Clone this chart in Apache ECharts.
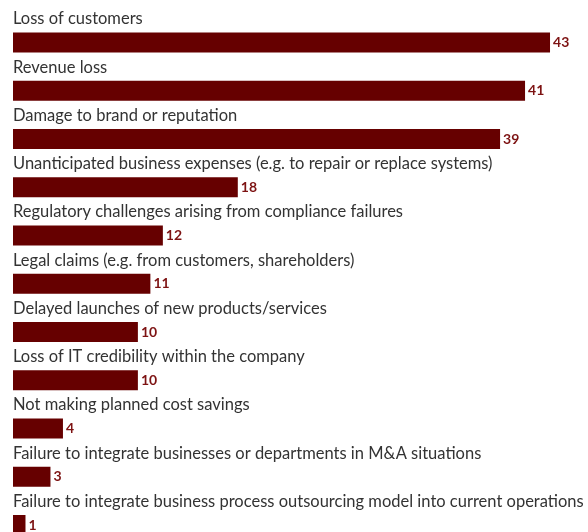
<!DOCTYPE html>
<html>
<head>
<meta charset="utf-8">
<script src="https://cdn.jsdelivr.net/npm/echarts@6/dist/echarts.min.js"></script>
<style>
  html, body { margin: 0; padding: 0; background: #fff; }
  #chart { width: 588px; height: 532px; }
</style>
</head>
<body>
<div id="chart"></div>
<script>
// Business impacts, percentage of respondents
const categories = [
  'Loss of customers',
  'Revenue loss',
  'Damage to brand or reputation',
  'Unanticipated business expenses (e.g. to repair or replace systems)',
  'Regulatory challenges arising from compliance failures',
  'Legal claims (e.g. from customers, shareholders)',
  'Delayed launches of new products/services',
  'Loss of IT credibility within the company',
  'Not making planned cost savings',
  'Failure to integrate businesses or departments in M&A situations',
  'Failure to integrate business process outsourcing model into current operations'
];
const values = [43, 41, 39, 18, 12, 11, 10, 10, 4, 3, 1];

const barColor = '#660000';
const valueColor = '#7d1212';
const textColor = '#333333';
const fontFamily = 'Lato, "Noto Sans", sans-serif';

const chart = echarts.init(document.getElementById('chart'), null, { renderer: 'canvas' });
chart.setOption({
  animation: false,
  backgroundColor: '#ffffff',
  // category centres sit on the grid edges (boundaryGap false)
  grid: { left: 13, right: 13, top: 42.5, bottom: 7 },
  xAxis: {
    type: 'value',
    min: 0,
    max: 45,
    show: false
  },
  yAxis: {
    type: 'category',
    inverse: true,
    boundaryGap: false,
    data: categories,
    axisLine: { show: false },
    axisTick: { show: false },
    axisLabel: { show: false },
    splitLine: { show: false }
  },
  series: [{
    // value bars with the figure at their tip
    type: 'bar',
    data: values,
    barWidth: 20,
    itemStyle: { color: barColor },
    label: {
      show: true,
      position: 'right',
      distance: 3,
      color: valueColor,
      fontFamily: fontFamily,
      fontWeight: 'bold',
      fontSize: 14
    },
    z: 2
  }, {
    // invisible twin bars carrying the category caption above each bar
    type: 'bar',
    data: values,
    barWidth: 20,
    barGap: '-100%',
    itemStyle: { color: 'rgba(0,0,0,0)' },
    silent: true,
    label: {
      show: true,
      position: [0, -22],
      align: 'left',
      verticalAlign: 'top',
      formatter: (p) => p.name,
      color: textColor,
      fontFamily: fontFamily,
      fontSize: 16.5
    },
    z: 3
  }]
});
</script>
</body>
</html>
